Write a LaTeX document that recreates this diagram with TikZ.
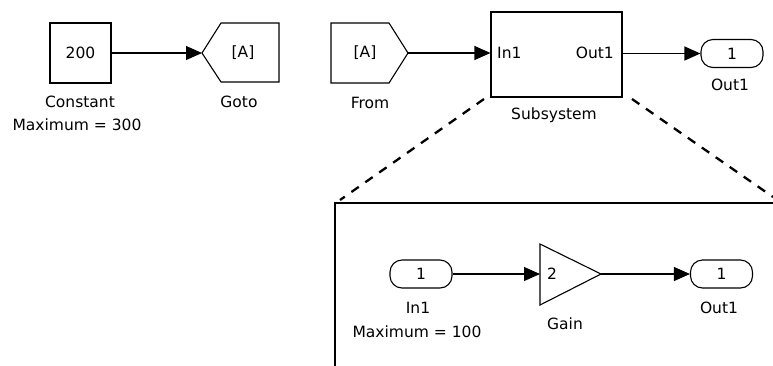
\documentclass[tikz,border=0pt]{standalone}
\usepackage{fontspec}
\setmainfont{DejaVu Sans}
\usetikzlibrary{arrows.meta}
\begin{document}
\begin{tikzpicture}[x=1pt,y=-1pt,
  every node/.style={font=\fontsize{15.5}{18}\selectfont, inner sep=0pt},
  blk/.style={draw, line width=1.1pt},
  lbl/.style={anchor=base},
  port/.style={draw, line width=1.1pt, rounded corners=12pt, minimum width=62pt, minimum height=28pt},
  sig/.style={line width=1.1pt, -{Triangle[length=16pt,width=14pt]}},
  zoomline/.style={line width=2.3pt, dash pattern=on 9pt off 8pt},
  frame/.style={line width=2.3pt}]
\useasboundingbox (0,0) rectangle (773,365);
\clip (0,0) rectangle (773,365);
% top row
\node[blk, minimum width=61pt, minimum height=60pt] (const) at (80.5,53) {200};
\node[lbl] (constlbl) at (80,107) {Constant};
\node[lbl] (constmax) at (77,130) {Maximum = 300};
% Goto
\coordinate (gotoin) at (202,53);
\draw[blk] (gotoin) -- (221,23) -- (279,23) -- (279,82) -- (221,82) -- cycle;
\node (gototxt) at (243,53) {[A]};
\node[lbl] (gotolbl) at (239,107) {Goto};
% From
\coordinate (fromout) at (408,53);
\draw[blk] (331,23) -- (389,23) -- (fromout) -- (389,83) -- (331,83) -- cycle;
\node (fromtxt) at (365,53) {[A]};
\node[lbl] (fromlbl) at (370,108) {From};
% Subsystem
\node[blk, minimum width=131pt, minimum height=85pt] (sub) at (556.5,54.5) {};
\node[anchor=west] (subin) at (497,53) {In1};
\node[anchor=east] (subout) at (614,53) {Out1};
\node[lbl] (sublbl) at (554,119) {Subsystem};
% Out1
\node[port] (out1) at (732,53.5) {1};
\node[lbl] (out1lbl) at (730,90) {Out1};
% connectors top
\draw[sig] (const.east |- gotoin) -- (gotoin);
\draw[sig] (fromout) -- (fromout -| sub.west);
\draw[sig] (sub.east |- out1.west) -- (out1.west);
% zoom lines
\coordinate (zl1) at (484,99);
\coordinate (zl2) at (340,200);
\coordinate (zr1) at (632,99);
\coordinate (zr2) at (773,197);
\draw[zoomline] (zl1) -- (zl2);
\draw[zoomline] (zr1) -- (zr2);
% frame
\draw[frame] (335,380) -- (335,203) -- (790,203);
% inner
\node[port] (in1) at (421,274) {1};
\node[lbl] (in1lbl) at (418,313) {In1};
\node[lbl] (in1max) at (417,337) {Maximum = 100};
\coordinate (gainin) at (540,274);
\coordinate (gainout) at (601,274);
\draw[blk] (540,244) -- (gainout) -- (540,305) -- cycle;
\node (gaintxt) at (552,274) {2};
\node[lbl] (gainlbl) at (565,329) {Gain};
\node[port] (out2) at (721.5,274) {1};
\node[lbl] (out2lbl) at (719,313) {Out1};
\draw[sig] (in1.east) -- (gainin);
\draw[sig] (gainout) -- (out2.west);
\end{tikzpicture}
\end{document}
